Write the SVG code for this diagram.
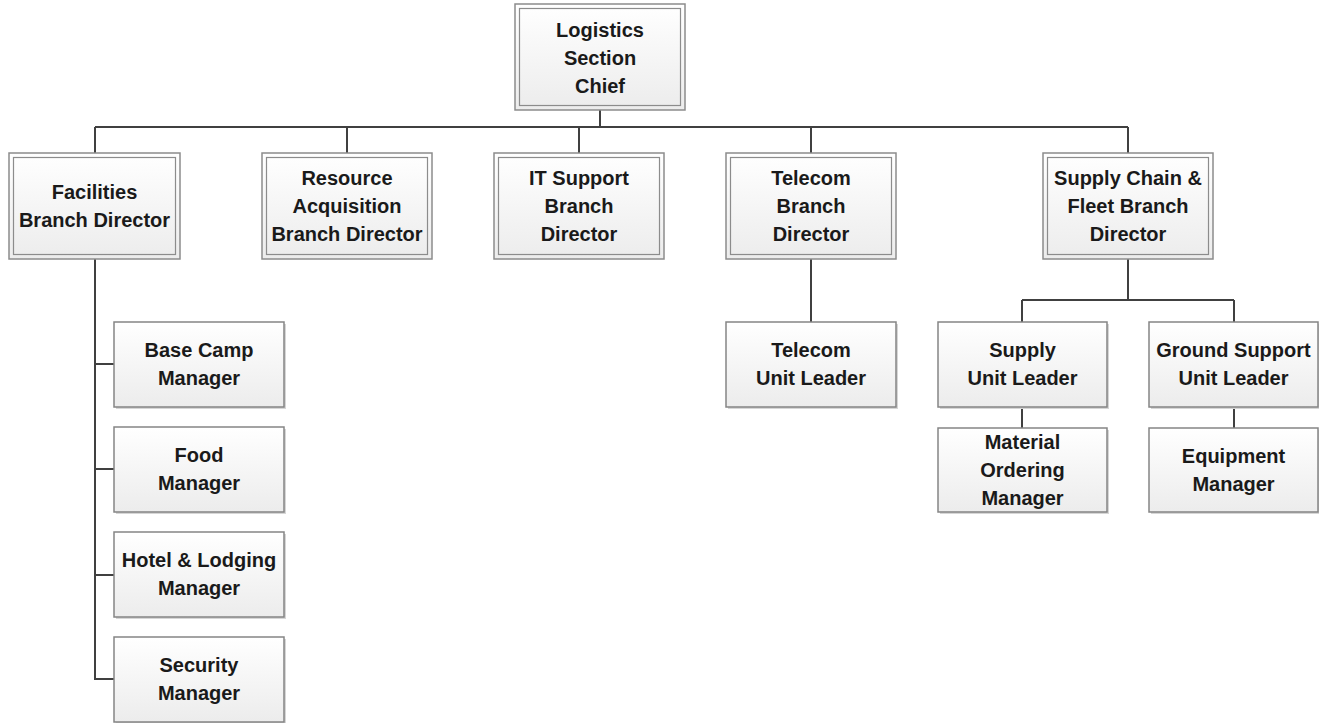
<svg xmlns="http://www.w3.org/2000/svg" width="1320" height="723" viewBox="0 0 1320 723">
  <defs>
    <linearGradient id="boxFill" x1="0" y1="0" x2="0" y2="1">
      <stop offset="0" stop-color="#ffffff"/>
      <stop offset="1" stop-color="#ececec"/>
    </linearGradient>
    <style>
      .outer { fill: url(#boxFill); stroke: #8c8c8c; stroke-width: 1.5; }
      .inner { fill: none; stroke: #8c8c8c; stroke-width: 1.2; }
      .single { fill: url(#boxFill); stroke: #858585; stroke-width: 1.5; }
      .shadow { fill: #d6d6d6; }
      .label { font-family: "Liberation Sans", Arial, sans-serif; font-weight: bold; font-size: 20px; fill: #1a1a1a; text-anchor: middle; }
      .wire { fill: none; stroke: #404040; stroke-width: 2; }
    </style>
  </defs>
  <rect width="1320" height="723" fill="#ffffff"/>

  <!-- connectors -->
  <g id="connectors" class="wire">
    <path d="M600 110 V127"/>
    <path d="M95 127 H1128"/>
    <path d="M95 127 V153 M347 127 V153 M579 127 V153 M811 127 V153 M1128 127 V153"/>
    <path d="M95 259 V679 H114 M95 364 H114 M95 469 H114 M95 575 H114"/>
    <path d="M811 259 V322"/>
    <path d="M1128 259 V300 M1022 300 H1234 M1022 300 V322 M1234 300 V322"/>
    <path d="M1022 407 V428 M1234 407 V428"/>
  </g>

  <!-- top level -->
  <g id="logistics-chief">
    <rect class="outer" x="515" y="4" width="170" height="106"/>
    <rect class="inner" x="519.5" y="8.5" width="161" height="97"/>
    <text class="label" x="600" y="37">Logistics<tspan x="600" dy="28">Section</tspan><tspan x="600" dy="28">Chief</tspan></text>
  </g>

  <!-- branch directors -->
  <g id="facilities-director">
    <rect class="outer" x="9" y="153" width="171" height="106"/>
    <rect class="inner" x="13.5" y="157.5" width="162" height="97"/>
    <text class="label" x="94.5" y="199">Facilities<tspan x="94.5" dy="28">Branch Director</tspan></text>
  </g>
  <g id="resource-director">
    <rect class="outer" x="262" y="153" width="170" height="106"/>
    <rect class="inner" x="266.5" y="157.5" width="161" height="97"/>
    <text class="label" x="347" y="185">Resource<tspan x="347" dy="28">Acquisition</tspan><tspan x="347" dy="28">Branch Director</tspan></text>
  </g>
  <g id="it-director">
    <rect class="outer" x="494" y="153" width="170" height="106"/>
    <rect class="inner" x="498.5" y="157.5" width="161" height="97"/>
    <text class="label" x="579" y="185">IT Support<tspan x="579" dy="28">Branch</tspan><tspan x="579" dy="28">Director</tspan></text>
  </g>
  <g id="telecom-director">
    <rect class="outer" x="726" y="153" width="170" height="106"/>
    <rect class="inner" x="730.5" y="157.5" width="161" height="97"/>
    <text class="label" x="811" y="185">Telecom<tspan x="811" dy="28">Branch</tspan><tspan x="811" dy="28">Director</tspan></text>
  </g>
  <g id="supply-chain-director">
    <rect class="outer" x="1043" y="153" width="170" height="106"/>
    <rect class="inner" x="1047.5" y="157.5" width="161" height="97"/>
    <text class="label" x="1128" y="185">Supply Chain &amp;<tspan x="1128" dy="28">Fleet Branch</tspan><tspan x="1128" dy="28">Director</tspan></text>
  </g>

  <!-- facilities units -->
  <g id="base-camp-manager">
    <rect class="shadow" x="116" y="324" width="170" height="85"/>
    <rect class="single" x="114" y="322" width="170" height="85"/>
    <text class="label" x="199" y="357">Base Camp<tspan x="199" dy="28">Manager</tspan></text>
  </g>
  <g id="food-manager">
    <rect class="shadow" x="116" y="429" width="170" height="85"/>
    <rect class="single" x="114" y="427" width="170" height="85"/>
    <text class="label" x="199" y="462">Food<tspan x="199" dy="28">Manager</tspan></text>
  </g>
  <g id="hotel-lodging-manager">
    <rect class="shadow" x="116" y="534" width="170" height="85"/>
    <rect class="single" x="114" y="532" width="170" height="85"/>
    <text class="label" x="199" y="567">Hotel &amp; Lodging<tspan x="199" dy="28">Manager</tspan></text>
  </g>
  <g id="security-manager">
    <rect class="shadow" x="116" y="639" width="170" height="85"/>
    <rect class="single" x="114" y="637" width="170" height="85"/>
    <text class="label" x="199" y="672">Security<tspan x="199" dy="28">Manager</tspan></text>
  </g>

  <!-- telecom unit -->
  <g id="telecom-unit-leader">
    <rect class="shadow" x="728" y="324" width="170" height="85"/>
    <rect class="single" x="726" y="322" width="170" height="85"/>
    <text class="label" x="811" y="357">Telecom<tspan x="811" dy="28">Unit Leader</tspan></text>
  </g>

  <!-- supply chain units -->
  <g id="supply-unit-leader">
    <rect class="shadow" x="940" y="324" width="169" height="85"/>
    <rect class="single" x="938" y="322" width="169" height="85"/>
    <text class="label" x="1022.5" y="357">Supply<tspan x="1022.5" dy="28">Unit Leader</tspan></text>
  </g>
  <g id="ground-support-unit-leader">
    <rect class="shadow" x="1151" y="324" width="168" height="85"/>
    <rect class="single" x="1149" y="322" width="169" height="85"/>
    <text class="label" x="1233.5" y="357">Ground Support<tspan x="1233.5" dy="28">Unit Leader</tspan></text>
  </g>
  <g id="material-ordering-manager">
    <rect class="shadow" x="940" y="430" width="169" height="84"/>
    <rect class="single" x="938" y="428" width="169" height="84"/>
    <text class="label" x="1022.5" y="449">Material<tspan x="1022.5" dy="28">Ordering</tspan><tspan x="1022.5" dy="28">Manager</tspan></text>
  </g>
  <g id="equipment-manager">
    <rect class="shadow" x="1151" y="430" width="168" height="84"/>
    <rect class="single" x="1149" y="428" width="169" height="84"/>
    <text class="label" x="1233.5" y="463">Equipment<tspan x="1233.5" dy="28">Manager</tspan></text>
  </g>
</svg>
